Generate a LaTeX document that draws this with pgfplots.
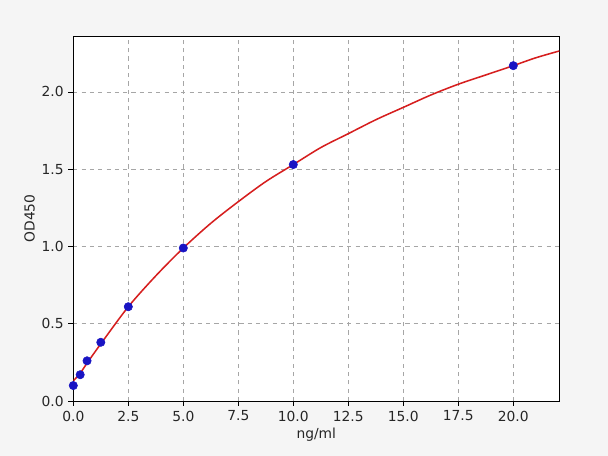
\documentclass[border=0pt]{standalone}
\usepackage{fontspec}
\setmainfont{DejaVu Sans}
\usepackage{pgfplots}
\pgfplotsset{compat=1.18}
\definecolor{bgc}{RGB}{245,245,245}
\definecolor{ptblue}{RGB}{25,20,195}
\definecolor{fitred}{RGB}{214,30,30}
\begin{document}
\begin{tikzpicture}
% canvas 608x456 px, 1 px = 0.72 bp
\fill[bgc] (0,0) rectangle (437.76bp,328.32bp);
\fill[white] (52.78bp,39.6bp) rectangle (402.7bp,302.4bp);
\begin{axis}[
    at={(52.78bp,39.6bp)}, anchor=south west,
    scale only axis,
    width=349.9bp, height=262.8bp,
    xmin=0, xmax=22.09,
    ymin=0, ymax=2.362,
    xtick={0,2.5,5,7.5,10,12.5,15,17.5,20},
    ytick={0,0.5,1,1.5,2},
    xticklabel style={/pgf/number format/.cd,fixed,fixed zerofill,precision=1},
    yticklabel style={/pgf/number format/.cd,fixed,fixed zerofill,precision=1},
    /pgf/number format/assume math mode=true,
    tick label style={font=\fontsize{10}{12}\selectfont, text=black!85},
    label style={font=\fontsize{10}{12}\selectfont, text=black!85},
    xlabel={ng/ml}, ylabel={OD450},
    xlabel style={yshift=2bp},
    ylabel style={yshift=-2bp},
    tick align=outside,
    major tick length=3.5bp,
    tick style={black, line width=0.6bp},
    xtick pos=bottom, ytick pos=left,
    axis line style={black, line width=0.6bp},
    grid=major,
    grid style={dashed, gray!70, line width=0.5bp},
    clip=true,
]
\addplot[only marks, mark=*, mark size=3bp, ptblue, mark options={draw=ptblue, fill=ptblue}]
    coordinates {
    (0,0.10)(0.3125,0.17)(0.625,0.26)(1.25,0.38)(2.5,0.61)(5,0.99)(10,1.53)(20,2.17)
    };
\addplot[fitred, line width=1.1bp, smooth]
    coordinates {
    (0,0.13)(0.3125,0.18)(0.625,0.245)(1.25,0.37)(2.5,0.61)(3.75,0.81)(5,0.99)
    (6.25,1.15)(7.5,1.29)(8.75,1.42)(10,1.53)(11.25,1.64)(12.5,1.73)
    (13.75,1.82)(15,1.90)(16.25,1.98)(17.5,2.05)(18.75,2.11)(20,2.17)
    (21,2.22)(22.09,2.265)
    };
\end{axis}
\end{tikzpicture}
\end{document}
